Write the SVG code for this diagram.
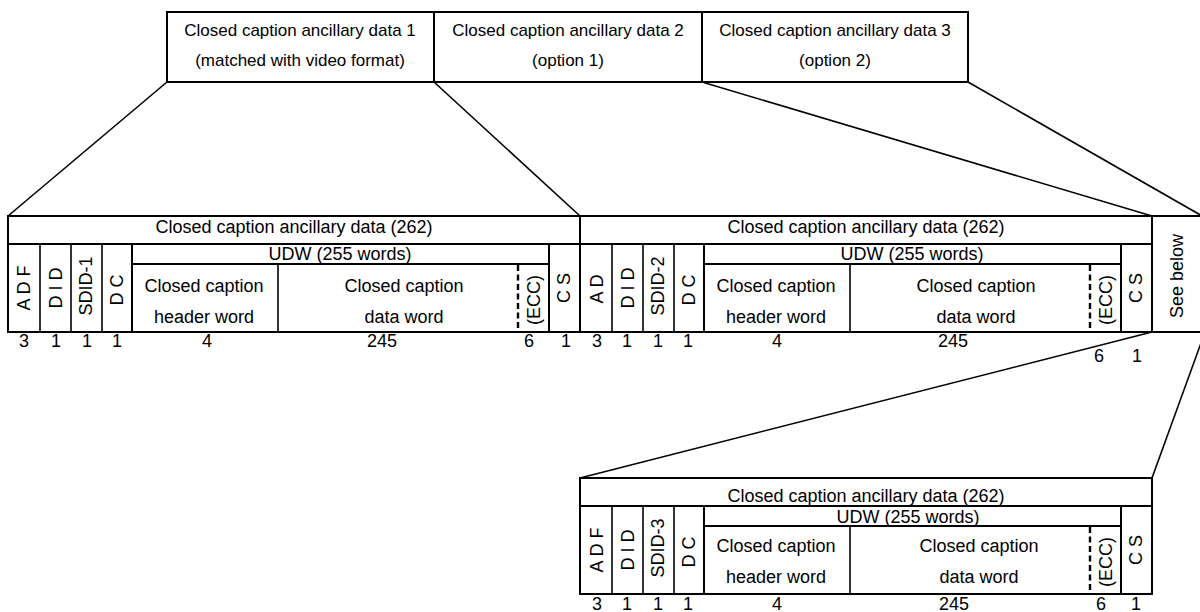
<svg xmlns="http://www.w3.org/2000/svg" width="1200" height="612" viewBox="0 0 1200 612">
<style>
.bx{fill:none;stroke:#000;stroke-width:2}
.ln{fill:none;stroke:#000;stroke-width:1.6}
.in{fill:none;stroke:#000;stroke-width:1.6}
.ds{fill:none;stroke:#000;stroke-width:2.4;stroke-dasharray:6 3.5}
.t{font-family:"Liberation Sans",Arial,sans-serif;font-size:18px;fill:#000;text-anchor:middle}
.tt{font-family:"Liberation Sans",Arial,sans-serif;font-size:17px;fill:#000;text-anchor:middle}
</style>
<rect width="1200" height="612" fill="#fff"/>

<g id="connectors">
<line class="ln" x1="167" y1="82" x2="8" y2="216"/>
<line class="ln" x1="434" y1="82" x2="580" y2="216"/>
<line class="ln" x1="702" y1="82" x2="1152" y2="216"/>
<line class="ln" x1="968" y1="82" x2="1204" y2="217"/>
<line class="ln" x1="1152" y1="332" x2="580" y2="478"/>
<line class="ln" x1="1205" y1="332" x2="1152" y2="478"/>
</g>

<g id="cc-data-1">
<rect class="bx" x="167" y="12" width="267" height="70"/>
<text class="tt" x="300" y="36">Closed caption ancillary data 1</text>
<text class="tt" x="300" y="66">(matched with video format)</text>
</g>
<g id="cc-data-2">
<rect class="bx" x="434" y="12" width="268" height="70"/>
<text class="tt" x="568" y="36">Closed caption ancillary data 2</text>
<text class="tt" x="568" y="66">(option 1)</text>
</g>
<g id="cc-data-3">
<rect class="bx" x="702" y="12" width="266" height="70"/>
<text class="tt" x="835" y="36">Closed caption ancillary data 3</text>
<text class="tt" x="835" y="66">(option 2)</text>
</g>

<g id="packet-1">
<rect class="bx" x="8" y="216" width="572" height="116"/>
<line class="bx" x1="8" y1="244" x2="580" y2="244"/>
<line class="in" x1="40" y1="244" x2="40" y2="332"/>
<line class="in" x1="71" y1="244" x2="71" y2="332"/>
<line class="in" x1="102" y1="244" x2="102" y2="332"/>
<line class="bx" x1="132" y1="244" x2="132" y2="332"/>
<line class="bx" x1="132" y1="264" x2="549" y2="264"/>
<line class="bx" x1="549" y1="244" x2="549" y2="332"/>
<line class="in" x1="278" y1="264" x2="278" y2="332"/>
<line class="ds" x1="518" y1="265" x2="518" y2="332"/>
<text class="t" x="294" y="233">Closed caption ancillary data (262)</text>
<text class="t" x="340" y="260">UDW (255 words)</text>
<text class="t" transform="translate(30,288) rotate(-90)">A D F</text>
<text class="t" transform="translate(62,288) rotate(-90)">D I D</text>
<text class="t" transform="translate(92,286) rotate(-90)">SDID-1</text>
<text class="t" transform="translate(123,290) rotate(-90)">D C</text>
<text class="t" transform="translate(540,300) rotate(-90)">(ECC)</text>
<text class="t" transform="translate(570,288) rotate(-90)">C S</text>
<text class="t" x="204" y="292">Closed caption</text>
<text class="t" x="204" y="323">header word</text>
<text class="t" x="404" y="292">Closed caption</text>
<text class="t" x="404" y="323">data word</text>
<text class="t" x="24" y="347">3</text>
<text class="t" x="56" y="347">1</text>
<text class="t" x="87" y="347">1</text>
<text class="t" x="117" y="347">1</text>
<text class="t" x="207" y="347">4</text>
<text class="t" x="382" y="347">245</text>
<text class="t" x="529" y="347">6</text>
<text class="t" x="566" y="347">1</text>
</g>

<g id="packet-2" transform="translate(572,0)">
<rect class="bx" x="8" y="216" width="572" height="116"/>
<line class="bx" x1="8" y1="244" x2="580" y2="244"/>
<line class="in" x1="40" y1="244" x2="40" y2="332"/>
<line class="in" x1="71" y1="244" x2="71" y2="332"/>
<line class="in" x1="102" y1="244" x2="102" y2="332"/>
<line class="bx" x1="132" y1="244" x2="132" y2="332"/>
<line class="bx" x1="132" y1="264" x2="549" y2="264"/>
<line class="bx" x1="549" y1="244" x2="549" y2="332"/>
<line class="in" x1="278" y1="264" x2="278" y2="332"/>
<line class="ds" x1="518" y1="265" x2="518" y2="332"/>
<text class="t" x="294" y="233">Closed caption ancillary data (262)</text>
<text class="t" x="340" y="260">UDW (255 words)</text>
<text class="t" transform="translate(31,289) rotate(-90)">A D</text>
<text class="t" transform="translate(62,288) rotate(-90)">D I D</text>
<text class="t" transform="translate(92,286) rotate(-90)">SDID-2</text>
<text class="t" transform="translate(123,290) rotate(-90)">D C</text>
<text class="t" transform="translate(540,300) rotate(-90)">(ECC)</text>
<text class="t" transform="translate(570,288) rotate(-90)">C S</text>
<text class="t" x="204" y="292">Closed caption</text>
<text class="t" x="204" y="323">header word</text>
<text class="t" x="404" y="292">Closed caption</text>
<text class="t" x="404" y="323">data word</text>
<text class="t" x="25" y="347">3</text>
<text class="t" x="55" y="347">1</text>
<text class="t" x="86" y="347">1</text>
<text class="t" x="116" y="347">1</text>
<text class="t" x="205" y="347">4</text>
<text class="t" x="381" y="347">245</text>
<text class="t" x="527" y="362">6</text>
<text class="t" x="565" y="362">1</text>
</g>

<g id="see-below">
<line class="bx" x1="1152" y1="216" x2="1205" y2="216"/>
<line class="bx" x1="1152" y1="332" x2="1205" y2="332"/>
<text class="t" transform="translate(1183,276) rotate(-90)">See below</text>
</g>

<g id="packet-3" transform="translate(572,262)">
<rect class="bx" x="8" y="216" width="572" height="116"/>
<line class="bx" x1="8" y1="244" x2="580" y2="244"/>
<line class="in" x1="40" y1="244" x2="40" y2="332"/>
<line class="in" x1="71" y1="244" x2="71" y2="332"/>
<line class="in" x1="102" y1="244" x2="102" y2="332"/>
<line class="bx" x1="132" y1="244" x2="132" y2="332"/>
<line class="bx" x1="132" y1="264" x2="549" y2="264"/>
<line class="bx" x1="549" y1="244" x2="549" y2="332"/>
<line class="in" x1="278" y1="264" x2="278" y2="332"/>
<line class="ds" x1="518" y1="265" x2="518" y2="332"/>
<text class="t" x="294" y="240">Closed caption ancillary data (262)</text>
<text class="t" x="336" y="261">UDW (255 words)</text>
<text class="t" transform="translate(31,288) rotate(-90)">A D F</text>
<text class="t" transform="translate(62,288) rotate(-90)">D I D</text>
<text class="t" transform="translate(92,286) rotate(-90)">SDID-3</text>
<text class="t" transform="translate(123,290) rotate(-90)">D C</text>
<text class="t" transform="translate(540,300) rotate(-90)">(ECC)</text>
<text class="t" transform="translate(570,288) rotate(-90)">C S</text>
<text class="t" x="204" y="290">Closed caption</text>
<text class="t" x="204" y="321">header word</text>
<text class="t" x="407" y="290">Closed caption</text>
<text class="t" x="407" y="321">data word</text>
<text class="t" x="25" y="348">3</text>
<text class="t" x="55" y="348">1</text>
<text class="t" x="86" y="348">1</text>
<text class="t" x="116" y="348">1</text>
<text class="t" x="205" y="348">4</text>
<text class="t" x="382" y="348">245</text>
<text class="t" x="529" y="348">6</text>
<text class="t" x="564" y="348">1</text>
</g>
</svg>
